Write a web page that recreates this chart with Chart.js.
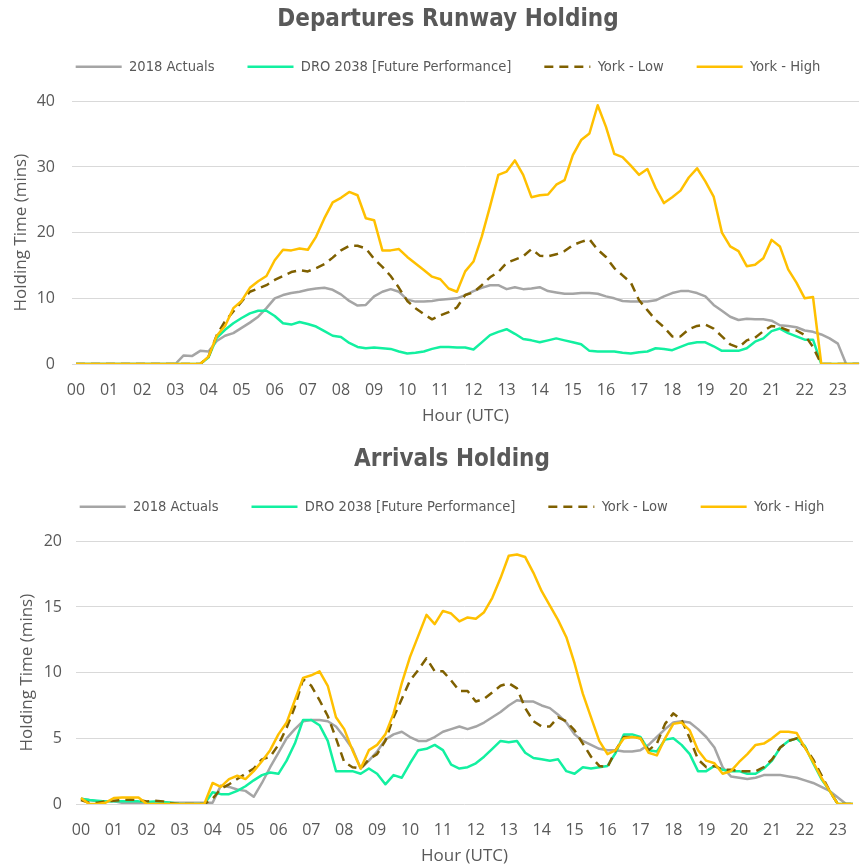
<!DOCTYPE html>
<html>
<head>
<meta charset="utf-8">
<title>Runway and Arrivals Holding</title>
<script src="https://cdn.jsdelivr.net/npm/chart.js@4.4.1/dist/chart.umd.min.js"></script>
<style>
  html, body { margin: 0; padding: 0; background: #ffffff; overflow: hidden; }
  body { width: 864px; height: 864px; position: relative; }
  canvas { position: absolute; left: 0; }
  #departures { top: 0; }
  #arrivals { top: 440px; }
</style>
</head>
<body>
<canvas id="departures" width="864" height="440"></canvas>
<canvas id="arrivals" width="864" height="440"></canvas>
<script>
// hour labels on the x axis (data is every 15 minutes, 96 slots per day)
const hourLabels = ["00", "01", "02", "03", "04", "05", "06", "07", "08", "09", "10", "11",
  "12", "13", "14", "15", "16", "17", "18", "19", "20", "21", "22", "23"];

const seriesNames = ["2018 Actuals", "DRO 2038 [Future Performance]", "York - Low", "York - High"];
const seriesColors = ["#A5A5A5", "#12F0A0", "#7F6000", "#FFC000"];

// Departures runway holding (mins)
const depActuals = [
  0, 0, 0, 0, 0, 0, 0, 0, 0, 0, 0, 0,
  0, 1.3, 1.2, 2.0, 1.9, 3.5, 4.3, 4.7, 5.5, 6.3, 7.2, 8.5,
  10.0, 10.5, 10.8, 11.0, 11.3, 11.5, 11.6, 11.3, 10.6, 9.6, 8.9, 9.0,
  10.3, 11.0, 11.4, 11.0, 9.8, 9.5, 9.5, 9.6, 9.8, 9.9, 10.0, 10.5,
  11.1, 11.6, 12.0, 12.0, 11.4, 11.7, 11.4, 11.5, 11.7, 11.1, 10.9, 10.7,
  10.7, 10.8, 10.8, 10.7, 10.3, 10.0, 9.6, 9.5, 9.5, 9.5, 9.7, 10.3,
  10.8, 11.1, 11.1, 10.8, 10.3, 9.0, 8.1, 7.2, 6.7, 6.9, 6.8, 6.8,
  6.6, 5.9, 5.8, 5.6, 5.1, 4.9, 4.5, 3.9, 3.1, 0, 0, 0
];
const depDro = [
  0, 0, 0, 0, 0, 0, 0, 0, 0, 0, 0, 0,
  0, 0, 0, 0, 1.0, 4.0, 5.2, 6.2, 7.0, 7.7, 8.1, 8.1,
  7.3, 6.2, 6.0, 6.4, 6.1, 5.7, 5.0, 4.3, 4.1, 3.2, 2.6, 2.4,
  2.5, 2.4, 2.3, 1.9, 1.6, 1.7, 1.9, 2.3, 2.6, 2.6, 2.5, 2.5,
  2.2, 3.3, 4.4, 4.9, 5.3, 4.6, 3.8, 3.6, 3.3, 3.6, 3.9, 3.6,
  3.3, 3.0, 2.0, 1.9, 1.9, 1.9, 1.7, 1.6, 1.8, 1.9, 2.4, 2.3,
  2.1, 2.6, 3.1, 3.3, 3.3, 2.7, 2.0, 2.0, 2.0, 2.4, 3.4, 3.9,
  5.0, 5.4, 4.7, 4.2, 3.7, 3.7, 0, 0, 0, 0, 0, 0
];
const depYorkLow = [
  0, 0, 0, 0, 0, 0, 0, 0, 0, 0, 0, 0,
  0, 0, 0, 0, 1.1, 4.4, 6.5, 8.0, 9.5, 11.0, 11.5, 12.0,
  12.8, 13.4, 14.0, 14.3, 14.1, 14.6, 15.2, 16.2, 17.3, 18.0, 18.0, 17.6,
  16.0, 14.8, 13.4, 11.6, 9.6, 8.5, 7.6, 6.8, 7.4, 7.9, 8.6, 10.5,
  10.9, 12.0, 13.2, 14.0, 15.4, 15.9, 16.4, 17.5, 16.5, 16.4, 16.7, 17.2,
  18.1, 18.6, 19.0, 17.4, 16.3, 14.6, 13.5, 12.4, 9.7, 8.2, 6.7, 5.6,
  4.2, 4.2, 5.3, 5.8, 6.0, 5.4, 4.2, 3.0, 2.5, 3.6, 4.0, 5.0,
  5.8, 5.6, 5.1, 5.1, 4.4, 2.6, 0, 0, 0, 0, 0, 0
];
const depYorkHigh = [
  0, 0, 0, 0, 0, 0, 0, 0, 0, 0, 0, 0,
  0, 0, 0, 0, 1.1, 4.3, 5.8, 8.5, 9.6, 11.6, 12.6, 13.4,
  15.8, 17.4, 17.3, 17.6, 17.4, 19.4, 22.2, 24.6, 25.3, 26.2, 25.7, 22.2,
  21.9, 17.3, 17.3, 17.5, 16.3, 15.3, 14.3, 13.3, 12.9, 11.5, 11.0, 14.1,
  15.6, 19.4, 24.0, 28.8, 29.3, 31.0, 28.8, 25.4, 25.7, 25.8, 27.3, 28.0,
  31.8, 34.1, 35.1, 39.4, 36.1, 32.0, 31.5, 30.2, 28.8, 29.7, 26.8, 24.5,
  25.4, 26.4, 28.4, 29.8, 27.8, 25.5, 20.0, 17.9, 17.2, 14.9, 15.1, 16.1,
  18.9, 17.9, 14.4, 12.4, 10.0, 10.2, 0, 0, 0, 0, 0, 0
];

// Arrivals holding (mins)
const arrActuals = [
  0.4, 0.3, 0.2, 0.2, 0.2, 0.1, 0.1, 0.1, 0.1, 0.1, 0.1, 0.1,
  0.1, 0.1, 0.1, 0.1, 0.1, 1.4, 1.3, 1.1, 1.0, 0.55, 1.6, 2.8,
  3.9, 5.0, 5.7, 6.3, 6.4, 6.4, 6.3, 5.9, 5.1, 4.2, 2.7, 3.3,
  4.0, 4.9, 5.3, 5.5, 5.1, 4.8, 4.8, 5.1, 5.5, 5.7, 5.9, 5.7,
  5.9, 6.2, 6.6, 7.0, 7.5, 7.9, 7.8, 7.8, 7.5, 7.3, 6.8, 6.2,
  5.3, 4.8, 4.5, 4.2, 4.1, 4.1, 4.0, 4.0, 4.1, 4.5, 5.1, 5.7,
  6.2, 6.3, 6.2, 5.7, 5.1, 4.3, 2.8, 2.1, 2.0, 1.9, 2.0, 2.2,
  2.2, 2.2, 2.1, 2.0, 1.8, 1.6, 1.3, 1.0, 0.5, 0, 0, 0
];
const arrDro = [
  0.4, 0.3, 0.25, 0.2, 0.2, 0.2, 0.2, 0.2, 0.15, 0.2, 0.15, 0.1,
  0, 0, 0, 0, 0.9, 0.75, 0.75, 1.0, 1.35, 1.8, 2.2, 2.4,
  2.3, 3.3, 4.6, 6.4, 6.4, 6.0, 4.8, 2.5, 2.5, 2.5, 2.3, 2.7,
  2.3, 1.5, 2.2, 2.0, 3.1, 4.1, 4.2, 4.5, 4.1, 3.0, 2.7, 2.8,
  3.1, 3.6, 4.2, 4.8, 4.7, 4.8, 3.9, 3.5, 3.4, 3.3, 3.4, 2.5,
  2.3, 2.8, 2.7, 2.8, 2.9, 3.9, 5.3, 5.3, 5.1, 4.1, 4.0, 4.9,
  5.0, 4.5, 3.8, 2.5, 2.5, 2.9, 2.6, 2.5, 2.5, 2.3, 2.3, 2.7,
  3.3, 4.3, 4.8, 5.0, 4.4, 3.1, 1.9, 1.0, 0, 0, 0, 0
];
const arrYorkLow = [
  0.3, 0.1, 0.1, 0.2, 0.25, 0.3, 0.35, 0.3, 0.2, 0.25, 0.2, 0.05,
  0, 0, 0, 0, 0.4, 1.15, 1.5, 1.9, 2.3, 2.7, 3.4, 3.6,
  4.5, 5.8, 7.4, 9.5, 9.0, 7.9, 6.7, 5.0, 3.2, 2.8, 2.7, 3.4,
  3.8, 4.8, 6.6, 8.0, 9.4, 10.2, 11.1, 10.1, 10.1, 9.4, 8.6, 8.6,
  7.8, 8.0, 8.5, 9.0, 9.2, 8.8, 7.3, 6.3, 5.9, 5.9, 6.6, 6.3,
  5.6, 4.6, 3.6, 2.9, 2.8, 4.1, 5.1, 5.1, 5.0, 4.1, 4.6, 6.1,
  6.9, 6.4, 5.0, 3.4, 2.8, 2.9, 2.6, 2.6, 2.5, 2.5, 2.5, 2.8,
  3.4, 4.3, 4.8, 5.0, 4.3, 3.4, 2.2, 1.0, 0, 0, 0, 0
];
const arrYorkHigh = [
  0.45, 0, 0, 0.1, 0.45, 0.5, 0.5, 0.5, 0, 0, 0, 0,
  0, 0, 0, 0, 1.6, 1.3, 1.9, 2.15, 1.9, 2.5, 3.25, 4.1,
  5.3, 6.2, 7.9, 9.6, 9.8, 10.1, 9.0, 6.6, 5.7, 4.1, 2.7, 4.1,
  4.5, 5.3, 6.9, 9.2, 11.2, 12.8, 14.4, 13.7, 14.7, 14.5, 13.9, 14.2,
  14.1, 14.6, 15.7, 17.2, 18.9, 19.0, 18.8, 17.6, 16.2, 15.1, 14.0, 12.7,
  10.7, 8.4, 6.6, 4.8, 3.8, 4.1, 5.0, 5.1, 5.0, 3.9, 3.7, 5.0,
  6.1, 6.2, 5.6, 4.1, 3.3, 3.1, 2.3, 2.5, 3.2, 3.8, 4.5, 4.6,
  5.0, 5.5, 5.5, 5.4, 4.3, 3.2, 2.0, 1.0, 0, 0, 0, 0
];

const textColor = "#595959";
const gridColor = "#D9D9D9";
const narrowFont = "'DejaVu Sans Condensed', 'Liberation Sans Narrow', sans-serif";
const bodyFont = "'Open Sans', 'Noto Sans', sans-serif";

// legend entries drawn as short lines, keeping the dataset's dash pattern
function legendLines(chart) {
  const items = Chart.defaults.plugins.legend.labels.generateLabels(chart);
  items.forEach((item) => {
    const ds = chart.data.datasets[item.datasetIndex];
    item.lineDash = ds.borderDash;
    item.lineWidth = ds.borderWidth;
    item.strokeStyle = ds.borderColor;
    item.lineCap = "butt";
  });
  return items;
}

function makeChart(canvasId, titleText, series, opts) {
  const datasets = series.map((values, k) => ({
    label: seriesNames[k],
    // one point per quarter hour
    data: values.map((v, i) => ({ x: i / 4, y: v })),
    borderColor: seriesColors[k],
    backgroundColor: seriesColors[k],
    borderWidth: 2.5,
    borderDash: k === 2 ? [9, 6] : [],
    borderJoinStyle: "round",
    pointRadius: 0,
    tension: 0,
    order: 4 - k, // York - High drawn on top, like Excel
  }));

  return new Chart(document.getElementById(canvasId), {
    type: "line",
    data: { datasets: datasets },
    options: {
      responsive: false,
      animation: false,
      layout: { padding: { left: opts.padLeft, right: 0, top: 0, bottom: 0 } },
      plugins: {
        title: {
          display: true,
          text: titleText,
          color: textColor,
          font: { family: narrowFont, size: 24, weight: "bold", lineHeight: 1.2 },
          padding: { top: 5.6, bottom: -7.9 },
        },
        // empty spacer under the legend
        subtitle: {
          display: true,
          text: "",
          weight: 500,
          font: { size: 1 },
          padding: { top: 0, bottom: 16 },
        },
        legend: {
          display: true,
          labels: {
            color: textColor,
            font: { family: narrowFont, size: 14.6 },
            usePointStyle: true,
            pointStyle: "line",
            pointStyleWidth: 46,
            boxHeight: 15,
            padding: 33,
            generateLabels: legendLines,
            sort: (a, b) => a.datasetIndex - b.datasetIndex,
          },
        },
        tooltip: { enabled: false },
      },
      scales: {
        x: {
          type: "linear",
          min: opts.xMin,
          max: opts.xMax,
          grid: { display: false, drawTicks: false },
          border: { display: false },
          ticks: {
            stepSize: 1,
            includeBounds: false,
            autoSkip: false,
            maxRotation: 0,
            padding: 17,
            color: textColor,
            font: { family: bodyFont, size: 16 },
            callback: (v) => hourLabels[Math.round(v)],
          },
          title: {
            display: true,
            text: "Hour (UTC)",
            color: textColor,
            font: { family: bodyFont, size: 17 },
            padding: { top: 0, bottom: 14 },
          },
          afterFit: (scale) => { scale.height = 76; },
        },
        y: {
          min: 0,
          max: opts.yMax,
          grid: { color: gridColor, lineWidth: 1, drawTicks: false },
          border: { display: false },
          ticks: {
            stepSize: opts.yStep,
            padding: opts.yTickPad,
            color: textColor,
            font: { family: bodyFont, size: 16 },
          },
          title: {
            display: true,
            text: "Holding Time (mins)",
            color: textColor,
            font: { family: bodyFont, size: 17 },
            padding: { top: opts.yTitlePad, bottom: 0 },
          },
          afterFit: (scale) => { scale.width = opts.yWidth; },
        },
      },
    },
  });
}

makeChart("departures", "Departures Runway Holding",
  [depActuals, depDro, depYorkLow, depYorkHigh],
  { padLeft: 32, yWidth: 40, yTickPad: 17, yTitlePad: -21.2, xMin: -0.12, xMax: 23.64, yMax: 40, yStep: 10 });

makeChart("arrivals", "Arrivals Holding",
  [arrActuals, arrDro, arrYorkLow, arrYorkHigh],
  { padLeft: 40, yWidth: 36, yTickPad: 14, yTitlePad: -23.2, xMin: -0.15, xMax: 23.46, yMax: 20, yStep: 5 });
</script>
</body>
</html>
